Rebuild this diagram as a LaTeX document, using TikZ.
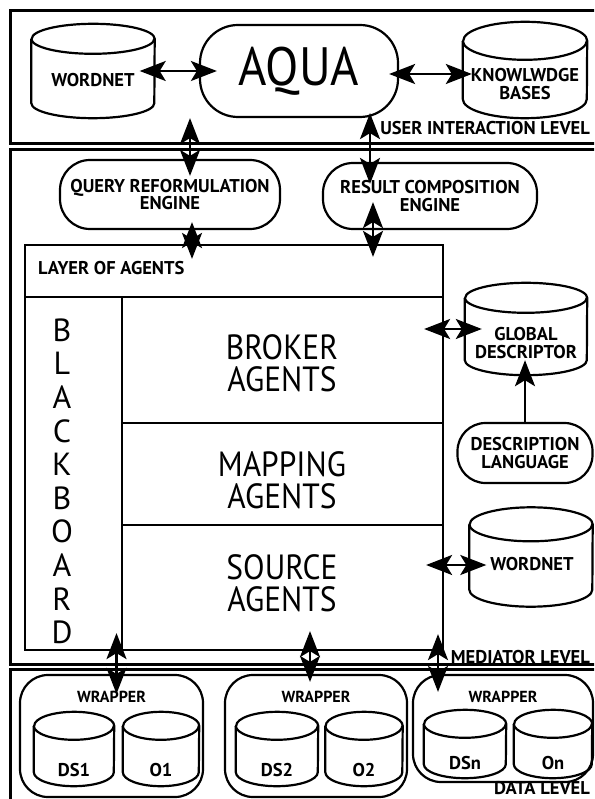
\documentclass[tikz,border=0pt]{standalone}
\usepackage{fontspec}
\setmainfont{PT Sans}
\newfontfamily\narrowface[FakeStretch=0.9]{PT Sans}
\usetikzlibrary{arrows.meta}
\newcommand{\lblfont}{\fontsize{18.5}{17.5}\selectfont\bfseries}
\newcommand{\smallfont}{\fontsize{16}{16}\selectfont\bfseries}
\newcommand{\agentfont}{\narrowface\fontsize{35}{32}\selectfont}
\tikzset{
  level/.style={draw, line width=3pt},
  dbline/.style={draw, line width=2.2pt},
  blob/.style={draw, line width=2.2pt, rounded corners=30pt, align=center, inner sep=0pt, font=\lblfont},
  wrapbox/.style={draw, line width=2.2pt, rounded corners=28pt, inner sep=0pt},
  dbtext/.style={align=center, inner sep=0pt, font=\lblfont},
  lvltext/.style={anchor=east, inner sep=0pt, font=\lblfont},
  agent/.style={align=center, inner sep=0pt, font=\agentfont},
  biarrow/.style={line width=2.4pt, {Stealth[length=26pt,width=20pt,inset=6pt]}-{Stealth[length=26pt,width=20pt,inset=6pt]}},
  onearrow/.style={line width=2.4pt, -{Stealth[length=26pt,width=20pt,inset=6pt]}},
}
% name, x, y, width, height, lid radius
\newcommand{\database}[6]{%
  \node[minimum width=#4pt, minimum height=#5pt, inner sep=0pt] (#1) at (#2,#3) {};
  \draw[dbline] ([yshift=-#6pt]#1.north west) -- ([yshift=#6pt]#1.south west)
    arc[start angle=180, end angle=360, x radius=#4pt/2, y radius=#6pt]
    -- ([yshift=-#6pt]#1.north east)
    arc[start angle=0, end angle=180, x radius=#4pt/2, y radius=#6pt];
  \draw[dbline] ([yshift=-#6pt]#1.north west)
    arc[start angle=180, end angle=360, x radius=#4pt/2, y radius=#6pt];
}
\begin{document}
\begin{tikzpicture}[x=1pt,y=-1pt]
\clip (0,0) rectangle (594,799);
\draw[level] (10,11) rectangle (610,144);
\draw[level] (10,150) rectangle (610,664);
\draw[level] (10,669) rectangle (610,815);

\database{wnA}{93}{71}{123}{94}{15}
\node[dbtext] at (93,80) {WORDNET};
\node[blob, rounded corners=38pt, minimum width=198pt, minimum height=92pt, font=\narrowface\fontsize{54}{54}\selectfont] (aqua) at (299,71) {AQUA};
\database{kb}{525}{70}{124}{96}{19}
\node[dbtext] at (525,84) {KNOWLWDGE\\BASES};
\node[lvltext] at (590,128) {USER INTERACTION LEVEL};
\draw[biarrow, shorten <=-15pt, shorten >=-18pt] (wnA.east) -- (wnA.east -| aqua.west);
\draw[biarrow, shorten <=-10pt, shorten >=-9pt] ([yshift=-3pt]aqua.east) -- ([yshift=-3pt]aqua.east -| kb.west);

\node[blob, minimum width=220pt, minimum height=69pt] (qre) at (170,194.5) {QUERY REFORMULATION\\ENGINE};
\node[blob, minimum width=214pt, minimum height=66pt] (rce) at (430,196) {RESULT COMPOSITION\\ENGINE};
\draw[biarrow, shorten >=-17pt] ([xshift=-109pt]aqua.south) -- ([xshift=-109pt]aqua.south |- qre.north);
\draw[biarrow, shorten <=-5pt, shorten >=-22pt] ([xshift=71pt]aqua.south) -- ([xshift=71pt]aqua.south |- rce.north);

\node[draw, line width=2.2pt, minimum width=418pt, minimum height=405pt, inner sep=0pt] (layer) at (234,447.5) {};
\node[anchor=west, inner sep=0pt, font=\lblfont] at (38,268) {LAYER OF AGENTS};
\draw[line width=2.2pt] (25,297) -- (443,297);
\draw[line width=2.2pt] (122,297) -- (122,650);
\draw[line width=2.2pt] (122,423) -- (443,423);
\draw[line width=2.2pt] (122,525) -- (443,525);
\draw[biarrow, shorten <=-8pt, shorten >=-15pt] ([xshift=22pt]qre.south) -- ([xshift=22pt]qre.south |- layer.north);
\draw[biarrow, shorten <=-28pt, shorten >=-13pt] ([xshift=-57pt]rce.south) -- ([xshift=-57pt]rce.south |- layer.north);

\foreach \ch [count=\i] in {B,L,A,C,K,B,O,A,R,D}
  \node[inner sep=0pt, font=\fontsize{32}{32}\selectfont] at (62,296.4+\i*33.6) {\ch};
\node[agent] at (282,363) {BROKER\\AGENTS};
\node[agent] at (282,480) {MAPPING\\AGENTS};
\node[agent] at (282,583) {SOURCE\\AGENTS};

\database{gd}{526}{329}{122}{92}{15}
\node[dbtext] at (526,343) {GLOBAL\\DESCRIPTOR};
\node[blob, rounded corners=28pt, minimum width=135pt, minimum height=60pt] (dl) at (525,453) {DESCRIPTION\\LANGUAGE};
\database{wnB}{531}{557}{123}{99}{17}
\node[dbtext] at (532,564) {WORDNET};
\draw[onearrow, shorten >=-15pt] (dl.north) -- (dl.north |- gd.south);
\draw[biarrow, shorten <=-20pt, shorten >=-17pt] (layer.east |- gd.west) -- (gd.west);
\draw[biarrow, shorten <=-18pt, shorten >=-17pt] ([yshift=-8pt]layer.east |- wnB.west) -- ([yshift=-8pt]wnB.west);
\node[lvltext] at (590,657) {MEDIATOR LEVEL};

\node[wrapbox, minimum width=183pt, minimum height=122pt] (wrA) at (111.5,736) {};
\node[wrapbox, minimum width=182pt, minimum height=122pt] (wrB) at (316,736) {};
\node[wrapbox, minimum width=180pt, minimum height=107pt] (wrC) at (503,728.5) {};
\foreach \w in {wrA,wrB,wrC}
  \node[inner sep=0pt, font=\smallfont] at ([yshift=-23pt]\w.north) {WRAPPER};
\database{dsA}{74}{749}{80}{74}{14}
\database{oA}{161}{749}{76}{74}{14}
\database{dsB}{277}{749}{82}{74}{14}
\database{oB}{364}{749}{77}{74}{14}
\database{dsC}{465}{744}{82}{68}{14}
\database{oC}{553}{744}{78}{68}{14}
\node[dbtext] at (74,770) {DS1};
\node[dbtext] at (161,770) {O1};
\node[dbtext] at (277,770) {DS2};
\node[dbtext] at (364,770) {O2};
\node[dbtext] at (465,763) {DSn};
\node[dbtext] at (553,763) {On};
\node[lvltext] at (590,788) {DATA LEVEL};
\draw[biarrow, shorten <=-18pt, shorten >=-20pt] ([xshift=5pt]wrA.north |- layer.south) -- ([xshift=5pt]wrA.north);
\draw[biarrow, shorten <=-20pt, shorten >=-8pt] ([xshift=-6pt]wrB.north |- layer.south) -- ([xshift=-6pt]wrB.north);
\draw[biarrow, shorten <=-17pt, shorten >=-18pt] ([xshift=-65pt]wrC.north |- layer.south) -- ([xshift=-65pt]wrC.north);
\end{tikzpicture}
\end{document}
